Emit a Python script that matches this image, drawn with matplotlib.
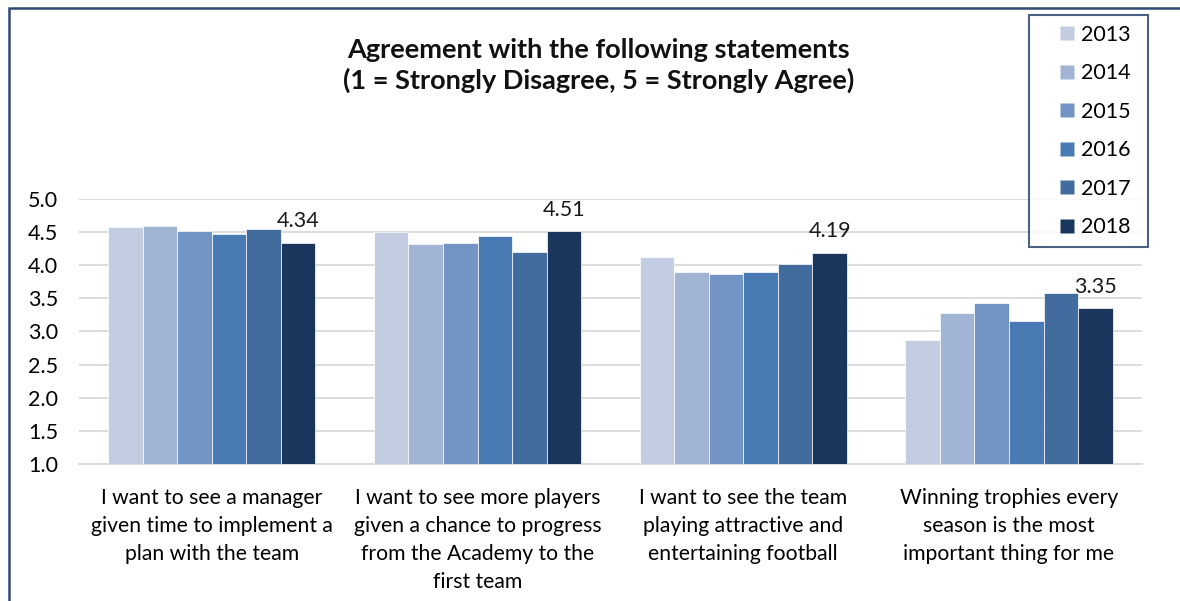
import numpy as np
import matplotlib.pyplot as plt
from matplotlib.lines import Line2D
from matplotlib.patches import Rectangle

plt.rcParams['font.family'] = ['Lato', 'DejaVu Sans']

# Survey statements (x-axis categories)
categories = [
    "I want to see a manager\ngiven time to implement a\nplan with the team",
    "I want to see more players\ngiven a chance to progress\nfrom the Academy to the\nfirst team",
    "I want to see the team\nplaying attractive and\nentertaining football",
    "Winning trophies every\nseason is the most\nimportant thing for me",
]
years = ["2013", "2014", "2015", "2016", "2017", "2018"]

# Average agreement score per statement, one list per year
scores_2013 = [4.58, 4.50, 4.13, 2.87]
scores_2014 = [4.59, 4.32, 3.90, 3.28]
scores_2015 = [4.52, 4.33, 3.86, 3.43]
scores_2016 = [4.47, 4.44, 3.90, 3.16]
scores_2017 = [4.54, 4.20, 4.02, 3.58]
scores_2018 = [4.34, 4.51, 4.19, 3.35]
all_scores = [scores_2013, scores_2014, scores_2015,
              scores_2016, scores_2017, scores_2018]

colors = ["#C2CDE1", "#A2B4D4", "#7395C5", "#4A7AB4", "#426C9E", "#1B365D"]
fs = 15.2

fig = plt.figure(figsize=(11.8, 6.01), dpi=100)
ax = fig.add_axes([0.0669, 0.228, 0.9008, 0.441])

x = np.arange(len(categories))
bar_w = 0.13
for i, (year, vals) in enumerate(zip(years, all_scores)):
    offs = (i - 2.5) * bar_w
    # bars start from the 1.0 baseline of the scale
    ax.bar(x + offs, np.array(vals) - 1.0, bottom=1.0, width=bar_w,
           color=colors[i], edgecolor="#FFFFFF", linewidth=0.5, zorder=3)

# value labels on the latest year only
for xi, v in zip(x, scores_2018):
    ax.text(xi + 2.5 * bar_w, v + 0.17, f"{v:.2f}", ha="center", va="bottom",
            fontsize=15.5, color="#1a1a1a", zorder=4)

ax.set_xlim(-0.5, len(categories) - 0.5)
ax.set_ylim(1.0, 5.0)
ax.set_yticks(np.arange(1.0, 5.01, 0.5))
ax.set_yticklabels([f"{t:.1f}" for t in np.arange(1.0, 5.01, 0.5)])
ax.yaxis.grid(True, color="#D9D9D9", linewidth=1.3, zorder=0)
ax.set_axisbelow(True)
ax.set_xticks(x)
ax.set_xticklabels(categories, fontsize=fs, linespacing=1.5)
ax.tick_params(axis="x", length=0, pad=17)
ax.tick_params(axis="y", length=0, pad=15, labelsize=15.5)
for s in ax.spines.values():
    s.set_visible(False)
ax.spines["bottom"].set_visible(True)
ax.spines["bottom"].set_color("#D9D9D9")
ax.spines["bottom"].set_linewidth(1.3)

fig.text(0.507, 0.891, "Agreement with the following statements\n(1 = Strongly Disagree, 5 = Strongly Agree)",
         ha="center", va="center", fontsize=19.5, fontweight="bold",
         linespacing=1.3, color="#111111")

handles = [Line2D([], [], linestyle="none", marker="s", markersize=10,
                  markerfacecolor=c, markeredgecolor="none") for c in colors]
leg = fig.legend(handles, years, loc="upper left", mode="expand",
                 bbox_to_anchor=(1029 / 1180, 1 - 15 / 601, 119 / 1180, 0.0),
                 fontsize=15.5, frameon=True, fancybox=False,
                 handlelength=2.6, handletextpad=-0.65,
                 labelspacing=0.86, borderpad=0.45, borderaxespad=0)
leg.get_frame().set_edgecolor("#1F3A63")
leg.get_frame().set_linewidth(1.5)

# outer chart border (runs off the right and bottom edges)
fig.patches.append(Rectangle((8.5 / 1180, -0.1), 1.2, 1.1 - 7.5 / 601,
                             transform=fig.transFigure, fill=False,
                             edgecolor="#2E4A75", linewidth=1.8))

fig.savefig("out.png", dpi=100)
